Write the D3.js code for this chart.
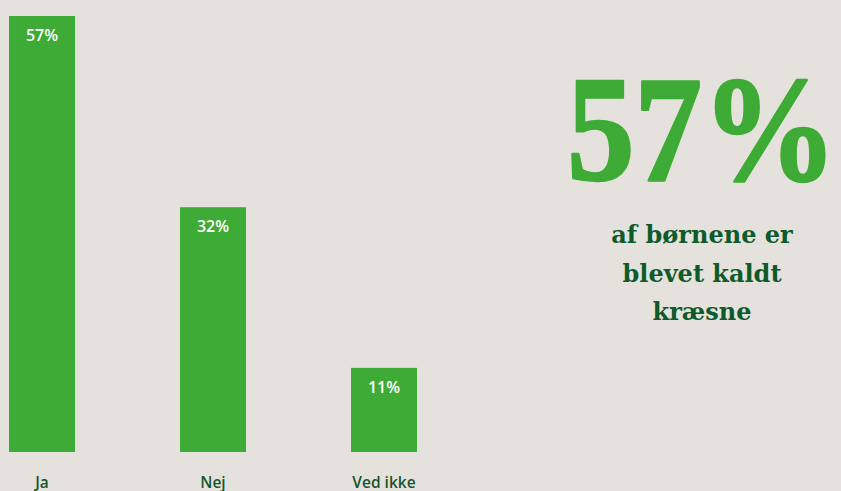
<!DOCTYPE html>
<html>
<head>
<meta charset="utf-8">
<script src="https://cdn.jsdelivr.net/npm/d3@7"></script>
<style>
  html, body { margin: 0; padding: 0; background: #e5e2dd; }
  svg { display: block; }
</style>
</head>
<body>
<svg id="chart" width="841" height="491"></svg>
<script>
// Survey answers: share of children who have been called picky
const categories = ["Ja", "Nej", "Ved ikke"];
const values = [57, 32, 11];
const valueLabels = ["57%", "32%", "11%"];
const headline = "57%";
const subtitleLines = ["af børnene er", "blevet kaldt", "kræsne"];

const W = 841, H = 491;
const barGreen = "#3dab35";
const darkGreen = "#0e5a2a";

const svg = d3.select("#chart");
svg.append("rect").attr("width", W).attr("height", H).attr("fill", "#e5e2dd");

const x = d3.scaleBand()
  .domain(categories)
  .range([9, 417])
  .paddingInner(105 / 171)
  .paddingOuter(0);

const y = d3.scaleLinear().domain([0, 57]).range([452, 16]);

const g = svg.append("g");

g.selectAll("rect.bar")
  .data(categories)
  .join("rect")
  .attr("class", "bar")
  .attr("x", d => x(d))
  .attr("width", x.bandwidth())
  .attr("y", (d, i) => y(values[i]))
  .attr("height", (d, i) => y(0) - y(values[i]))
  .attr("fill", barGreen);

g.selectAll("text.val")
  .data(categories)
  .join("text")
  .attr("class", "val")
  .attr("x", d => x(d) + x.bandwidth() / 2)
  .attr("y", (d, i) => y(values[i]) + 25)
  .attr("text-anchor", "middle")
  .attr("fill", "#ffffff")
  .attr("font-family", "'Open Sans', 'Noto Sans', sans-serif")
  .attr("font-size", 16)
  .attr("font-weight", 600)
  .text((d, i) => valueLabels[i]);

// category axis below the bars, without line or ticks
const xAxis = d3.axisBottom(x).tickSize(0).tickPadding(0);
const ax = svg.append("g").attr("transform", "translate(0,474)").call(xAxis);
ax.select(".domain").remove();
ax.selectAll("text")
  .attr("dy", "0.9em")
  .attr("fill", "#17552c")
  .attr("font-family", "'Open Sans', 'Noto Sans', sans-serif")
  .attr("font-size", 15.5)
  .attr("font-weight", 600);

// headline figure and caption on the right
const cx = 702;
svg.append("text")
  .attr("x", cx)
  .attr("y", 180)
  .attr("text-anchor", "middle")
  .attr("fill", barGreen)
  .attr("stroke", barGreen)
  .attr("stroke-width", 2.5)
  .attr("stroke-linejoin", "round")
  .attr("font-family", "'Liberation Serif', 'DejaVu Serif', serif")
  .attr("font-weight", 700)
  .attr("font-size", 150)
  .attr("textLength", 270)
  .attr("lengthAdjust", "spacingAndGlyphs")
  .text(headline);

svg.append("g").selectAll("text")
  .data(subtitleLines)
  .join("text")
  .attr("x", cx)
  .attr("y", (d, i) => 243 + i * 38.5)
  .attr("text-anchor", "middle")
  .attr("fill", darkGreen)
  .attr("font-family", "'DejaVu Serif', 'Liberation Serif', serif")
  .attr("font-weight", 700)
  .attr("font-size", 24)
  .text(d => d);
</script>
</body>
</html>
